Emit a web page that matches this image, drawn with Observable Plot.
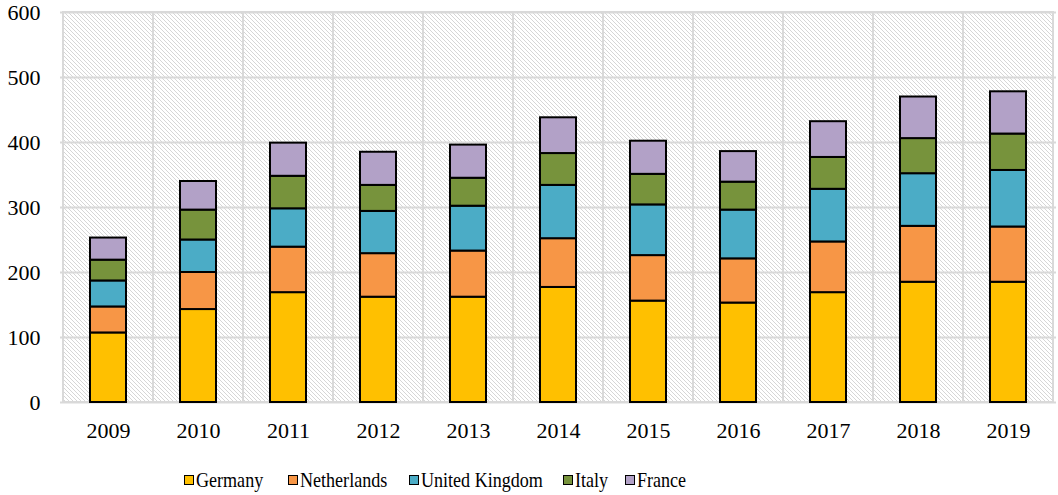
<!DOCTYPE html>
<html>
<head>
<meta charset="utf-8">
<script src="https://cdn.jsdelivr.net/npm/d3@7"></script>
<script src="https://cdn.jsdelivr.net/npm/@observablehq/plot@0.6"></script>
<style>
  html, body { margin: 0; padding: 0; background: #fff; }
  #wrap { position: relative; width: 1058px; height: 495px; font-family: "Liberation Serif", "Times New Roman", serif; }
  #legend { position: absolute; left: 0; top: 467px; width: 1058px; height: 26px; font-size: 21px; color: #000; }
  .item { position: absolute; top: 0; display: flex; align-items: center; height: 26px; white-space: nowrap; }
  .sw { width: 8px; height: 8px; border: 1.5px solid #000; margin-right: 2px; flex: none; }
  .lt { display: inline-block; transform: scaleX(0.86); transform-origin: left center; }
</style>
</head>
<body>
<div id="wrap"><div id="chart"></div><div id="legend"></div></div>
<script>
const years = ["2009","2010","2011","2012","2013","2014","2015","2016","2017","2018","2019"];
const countries = ["Germany","Netherlands","United Kingdom","Italy","France"];
const colors = ["#FFC000","#F79646","#4BACC6","#77933C","#B2A1C7"];
const germany     = [107, 143, 169, 162, 162, 177, 156, 153, 169, 185, 185];
const netherlands = [ 40,  57,  70,  67,  71,  75,  70,  68,  78,  86,  85];
const uk          = [ 40,  50,  59,  65,  69,  82,  78,  75,  81,  81,  87];
const italy       = [ 32,  46,  50,  40,  43,  49,  47,  43,  49,  54,  56];
const france      = [ 34,  44,  51,  51,  51,  55,  51,  47,  55,  64,  65];
const yTicks = [0, 100, 200, 300, 400, 500, 600];
const legendLeft = [184, 288, 409, 563, 625];

const series = [germany, netherlands, uk, italy, france];
const rows = [];
countries.forEach((c, i) => years.forEach((y, j) => rows.push({year: y, country: c, value: series[i][j]})));

const serif = "'Liberation Serif', 'Times New Roman', serif";
const chart = Plot.plot({
  width: 1058,
  height: 450,
  marginLeft: 60,
  marginRight: 2,
  marginTop: 12,
  marginBottom: 48,
  style: {fontFamily: serif, fontSize: "22px", color: "#000", background: "#fff"},
  x: {domain: years, padding: 0, label: null},
  y: {domain: [0, 600], label: null},
  color: {domain: countries, range: colors},
  marks: [
    Plot.cell(years, {x: d => d, fill: "url(#hatch)", stroke: "#d9d9d9", strokeWidth: 2}),
    Plot.gridY(yTicks, {stroke: "#d9d9d9", strokeOpacity: 1, strokeWidth: 2}),
    Plot.axisY(yTicks, {tickSize: 0, tickPadding: 20, fontSize: 22, fontFamily: serif, fill: "#000", label: null}),
    Plot.axisX({tickSize: 0, tickPadding: 20, fontSize: 22, fontFamily: serif, fill: "#000", label: null}),
    Plot.barY(rows, {x: "year", y: "value", z: "country", fill: "country", stroke: "#000", strokeWidth: 2, insetLeft: 27, insetRight: 27})
  ]
});

const ns = "http://www.w3.org/2000/svg";
const defs = document.createElementNS(ns, "defs");
defs.innerHTML = '<pattern id="hatch" patternUnits="userSpaceOnUse" width="4" height="4">' +
  '<rect width="4" height="4" fill="#fff"/>' +
  '<path d="M0,0 L4,4 M-1,3 L1,5 M3,-1 L5,1" stroke="#d6d6d6" stroke-width="1"/></pattern>';
chart.insertBefore(defs, chart.firstChild);
document.getElementById("chart").appendChild(chart);

const legend = document.getElementById("legend");
countries.forEach((c, i) => {
  const item = document.createElement("div");
  item.className = "item";
  item.style.left = legendLeft[i] + "px";
  const sw = document.createElement("div");
  sw.className = "sw";
  sw.style.background = colors[i];
  const t = document.createElement("span");
  t.className = "lt";
  t.textContent = c;
  item.appendChild(sw); item.appendChild(t);
  legend.appendChild(item);
});
</script>
</body>
</html>
